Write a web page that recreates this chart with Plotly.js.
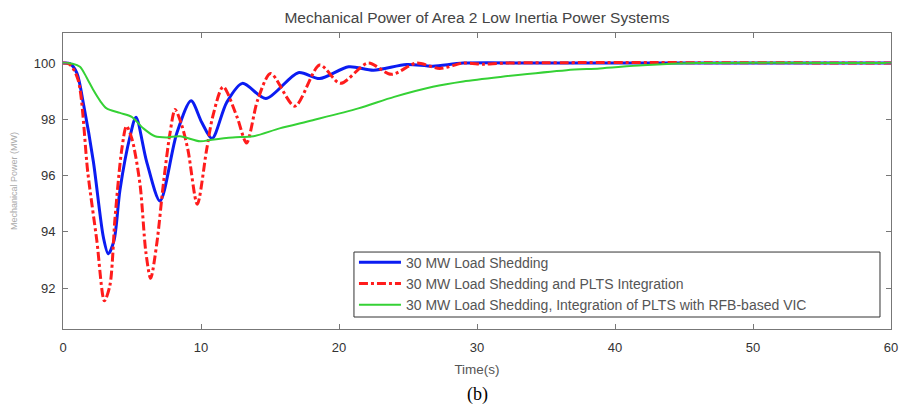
<!DOCTYPE html>
<html>
<head>
<meta charset="utf-8">
<script src="https://cdn.plot.ly/plotly-3.0.1.min.js"></script>
<style>html,body{margin:0;padding:0;background:#fff;}#chart{width:900px;height:412px;}</style>
</head>
<body>
<div id="chart"></div>
<script>
// Series 1: 30 MW Load Shedding
const tBlue = [0, 0.5, 1.0, 1.5, 2.2, 2.93, 3.28, 3.7, 4.13, 4.86, 5.29, 6.06, 7.03, 8.24, 9.28, 10.05, 10.8, 11.86, 13.0, 14.7, 17.05, 18.6, 20.7, 22.5, 24.9, 26.8, 29, 35, 60];
const vBlue = [100, 99.98, 99.65, 98.5, 96.5, 93.8, 93.22, 93.7, 95.5, 97.4, 98.08, 96.5, 95.1, 97.5, 98.66, 97.9, 97.32, 98.6, 99.28, 98.74, 99.66, 99.45, 99.87, 99.75, 99.95, 99.89, 100, 100, 100];

// Series 2: 30 MW Load Shedding and PLTS Integration
const tRed = [0, 0.5, 1.1, 1.8, 2.45, 3.0, 3.4, 3.77, 4.25, 4.6, 5.0, 5.58, 6.0, 6.35, 6.8, 7.27, 7.75, 8.12, 8.6, 9.06, 9.73, 10.4, 10.85, 11.6, 12.6, 13.3, 14.1, 15.05, 16.8, 18.6, 20.1, 22.1, 23.8, 25.6, 27.3, 29.0, 30.5, 32, 60];
const vRed = [100, 99.95, 99.4, 96.1, 93.7, 91.55, 92.1, 94.5, 96.9, 97.76, 97.3, 95.7, 93.3, 92.35, 93.6, 95.7, 97.5, 98.35, 97.8, 96.9, 94.98, 96.9, 98.1, 99.16, 98.1, 97.16, 98.68, 99.63, 98.47, 99.93, 99.28, 100.0, 99.6, 100.0, 99.81, 100.0, 99.96, 100, 100];

// Series 3: 30 MW Load Shedding, Integration of PLTS with RFB-based VIC
const tGreen = [0, 0.7, 1.23, 1.7, 2.2, 2.7, 3.16, 4.13, 4.98, 5.82, 6.67, 7.5, 8.48, 9.93, 10.8, 12.3, 13.8, 15.7, 18.1, 21.4, 24, 26.8, 29, 31.7, 36.5, 38.9, 42, 46, 60];
const vGreen = [100, 99.98, 99.87, 99.5, 99.04, 98.65, 98.39, 98.23, 98.09, 97.68, 97.40, 97.36, 97.40, 97.22, 97.28, 97.36, 97.40, 97.68, 97.97, 98.39, 98.8, 99.16, 99.35, 99.51, 99.75, 99.81, 99.92, 100, 100];

const seriesNames = [
  "30 MW Load Shedding",
  "30 MW Load Shedding and PLTS Integration",
  "30 MW Load Shedding, Integration of PLTS with RFB-based VIC"
];
const xTicks = [0, 10, 20, 30, 40, 50, 60];
const yTicks = [92, 94, 96, 98, 100];

const traces = [
  {x: tBlue, y: vBlue, name: seriesNames[0], type: 'scatter', mode: 'lines',
   line: {color: '#0b1cf2', width: 3, shape: 'spline', smoothing: 0.8}},
  {x: tRed, y: vRed, name: seriesNames[1], type: 'scatter', mode: 'lines',
   line: {color: '#ff1c1c', width: 3, dash: '9px,3px,3px,3px', shape: 'spline', smoothing: 0.8}},
  {x: tGreen, y: vGreen, name: seriesNames[2], type: 'scatter', mode: 'lines',
   line: {color: '#35d135', width: 2, shape: 'spline', smoothing: 0.8}}
];

const axisFont = {family: 'Arial, Liberation Sans, sans-serif', size: 13, color: '#333'};

const layout = {
  width: 900, height: 412,
  paper_bgcolor: '#fff', plot_bgcolor: '#fff',
  margin: {l: 63, r: 9, t: 33, b: 83},
  showlegend: true,
  title: {text: 'Mechanical Power of Area 2 Low Inertia Power Systems',
          font: {family: 'Arial, Liberation Sans, sans-serif', size: 15.5, color: '#444'},
          x: 0.5, xref: 'paper', y: 1 - 18/412, yref: 'container', yanchor: 'middle'},
  xaxis: {range: [0, 60], tickvals: xTicks, ticktext: xTicks.map(String),
          showline: true, linecolor: '#777', linewidth: 1, mirror: 'ticks',
          ticks: 'inside', ticklen: 5, tickcolor: '#777', showgrid: false, zeroline: false,
          tickfont: axisFont, ticklabelstandoff: 6,
          title: {text: 'Time(s)', font: {family: 'Arial, Liberation Sans, sans-serif', size: 13.5, color: '#555'}, standoff: 10}},
  yaxis: {range: [90.55, 101.07], tickvals: yTicks, ticktext: yTicks.map(String),
          showline: true, linecolor: '#777', linewidth: 1, mirror: 'ticks',
          ticks: 'inside', ticklen: 5, tickcolor: '#777', showgrid: false, zeroline: false,
          tickfont: axisFont, ticklabelstandoff: 4,
          title: {text: 'Mechanical Power (MW)', font: {family: 'Arial, Liberation Sans, sans-serif', size: 9, color: '#aaa'}, standoff: 14}},
  legend: {x: 0.3514, xanchor: 'left', y: 0.278, yanchor: 'top',
           bgcolor: 'rgba(0,0,0,0)', borderwidth: 0, tracegroupgap: 0, itemwidth: 42,
           font: {family: 'Arial, Liberation Sans, sans-serif', size: 14, color: '#555'}},
  shapes: [{type: 'rect', xref: 'paper', yref: 'paper', x0: 0.3514, x1: 0.9867, y0: 0.0405, y1: 0.26,
            line: {color: '#333', width: 1}, fillcolor: '#fff', layer: 'above'}],
  annotations: [{text: '(b)', xref: 'paper', yref: 'paper', x: 0.5, y: -0.222, yanchor: 'middle',
                 showarrow: false, font: {family: 'Liberation Serif, Times New Roman, serif', size: 18, color: '#000'}}]
};

Plotly.newPlot('chart', traces, layout, {displayModeBar: false, staticPlot: true});
</script>
</body>
</html>
